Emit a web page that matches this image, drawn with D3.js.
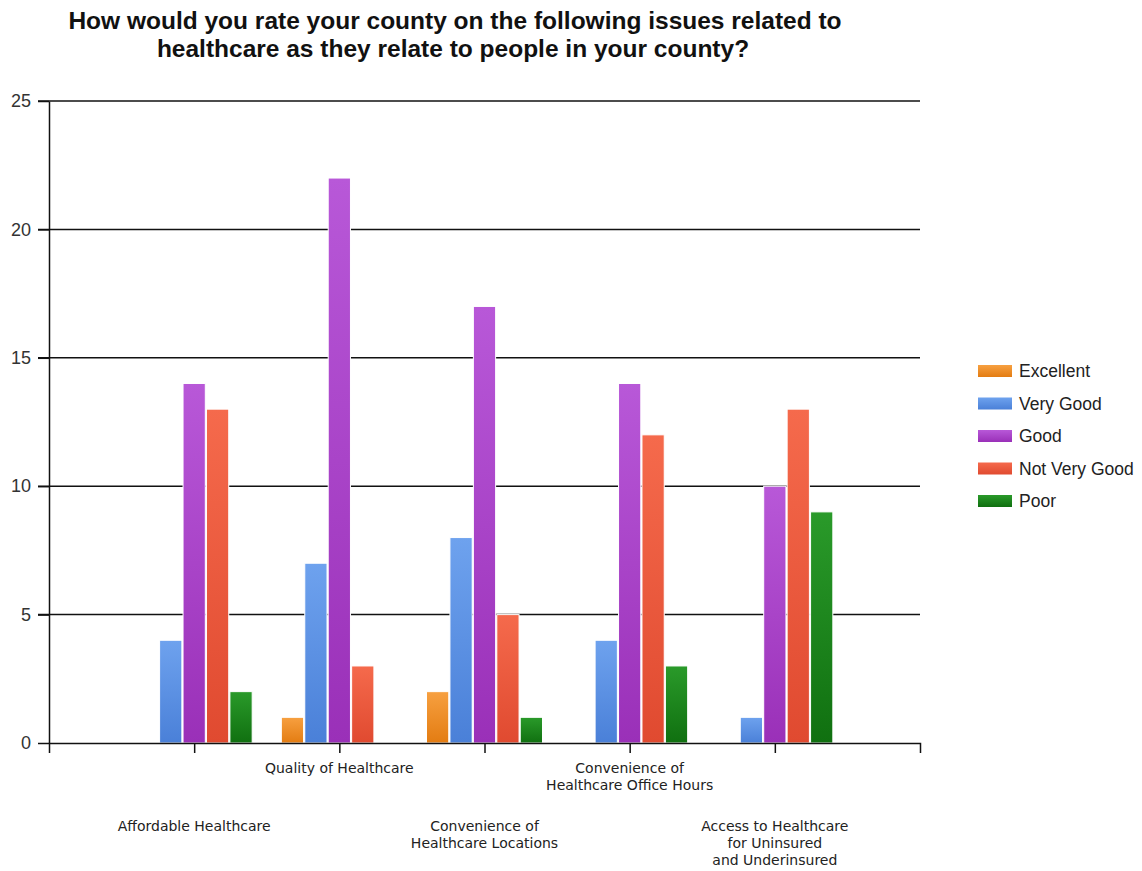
<!DOCTYPE html>
<html><head><meta charset="utf-8">
<script src="https://cdn.jsdelivr.net/npm/d3@7"></script>
<style>body{margin:0;background:#fff}svg{display:block}</style>
</head><body>
<script>
const categories = ["Affordable Healthcare","Quality of Healthcare","Convenience of\nHealthcare Locations","Convenience of\nHealthcare Office Hours","Access to Healthcare\nfor Uninsured\nand Underinsured"];
const seriesNames = ["Excellent","Very Good","Good","Not Very Good","Poor"];
const excellent = [0,1,2,0,0];
const veryGood = [4,7,8,4,1];
const good = [14,22,17,14,10];
const notVeryGood = [13,3,5,12,13];
const poor = [2,0,1,3,9];
const yTicks = [0,5,10,15,20,25];
const colorsTop = ["#f7a040","#6ea2ee","#b858d8","#f56a4c","#2a9a2a"];
const colorsBot = ["#e37c12","#4a80d8","#9a30b8","#e04a30","#107010"];
const seriesValues = [excellent, veryGood, good, notVeryGood, poor];

const W = 1142, H = 871;
const svg = d3.select("body").append("svg").attr("width", W).attr("height", H);
const defs = svg.append("defs");
seriesNames.forEach((s,i)=>{
  const g = defs.append("linearGradient").attr("id","g"+i).attr("x1",0).attr("y1",0).attr("x2",0).attr("y2",1);
  g.append("stop").attr("offset","0%").attr("stop-color",colorsTop[i]);
  g.append("stop").attr("offset","100%").attr("stop-color",colorsBot[i]);
});

const x0 = 49, x1 = 920, yTop = 101, yBot = 743;
const x = d3.scalePoint().domain(categories).range([x0, x1]).padding(1);
const y = d3.scaleLinear().domain([0,25]).range([yBot, yTop]);
const xs = d3.scaleBand().domain(seriesNames).range([-58, 58]).paddingInner(0.05);

// title
const title = svg.append("text").attr("text-anchor","middle")
  .attr("font-family","Liberation Sans, Arial, sans-serif").attr("font-weight","bold")
  .attr("font-size", 24.5).attr("fill","#111");
title.append("tspan").attr("x",455).attr("y",29).text("How would you rate your county on the following issues related to");
title.append("tspan").attr("x",453).attr("y",57).text("healthcare as they relate to people in your county?");

// gridlines
svg.append("g").selectAll("line").data(yTicks.filter(d=>d>0)).join("line")
  .attr("x1", 38).attr("x2", x1).attr("y1", d=>y(d)).attr("y2", d=>y(d))
  .attr("stroke","#111").attr("stroke-width",1.5);

// y axis
const ya = svg.append("g").attr("transform",`translate(${x0},0)`)
  .call(d3.axisLeft(y).tickValues(yTicks).tickSize(11).tickSizeOuter(0).tickPadding(7));
ya.select(".domain").attr("stroke","#111").attr("stroke-width",1.5);
ya.selectAll(".tick line").attr("stroke","#111").attr("stroke-width",1.5);
ya.selectAll(".tick text").attr("font-family","Liberation Sans, Arial, sans-serif").attr("font-size",18).attr("fill","#333");

// bars
const groups = svg.append("g").selectAll("g").data(categories).join("g")
  .attr("transform", d=>`translate(${x(d)},0)`);
groups.selectAll("rect").data((c,ci)=>seriesNames.map((s,si)=>({s,si,v:seriesValues[si][ci]})).filter(d=>d.v>0))
  .join("rect")
  .attr("x", d=>xs(d.s)).attr("width", xs.bandwidth())
  .attr("y", d=>y(d.v)).attr("height", d=>y(0)-y(d.v))
  .attr("fill", d=>`url(#g${d.si})`).attr("stroke","#fff").attr("stroke-width",1);

// x axis
const xa = svg.append("g").attr("transform",`translate(0,${yBot})`)
  .call(d3.axisBottom(x).tickSize(10).tickSizeOuter(10).tickFormat(""));
xa.select(".domain").attr("stroke","#111").attr("stroke-width",1.5);
xa.selectAll(".tick line").attr("stroke","#111").attr("stroke-width",1.5);

// category labels (staggered)
const lab = svg.append("g").selectAll("text").data(categories).join("text")
  .attr("text-anchor","middle").attr("font-family","DejaVu Sans, Verdana, sans-serif")
  .attr("font-size",14).attr("fill","#222");
lab.each(function(d,i){
  const base = i%2===0 ? 831 : 773;
  d.split("\n").forEach((ln,k)=>{
    d3.select(this).append("tspan").attr("x", x(d)).attr("y", base + k*17).text(ln);
  });
});

// legend
const lg = svg.append("g").selectAll("g").data(seriesNames).join("g")
  .attr("transform",(d,i)=>`translate(978,${371 + i*32.5})`);
lg.append("rect").attr("x",0).attr("y",-6).attr("width",34).attr("height",12)
  .attr("fill",(d,i)=>`url(#g${i})`);
lg.append("text").attr("x",41).attr("y",6).attr("font-family","Liberation Sans, Arial, sans-serif")
  .attr("font-size",17.5).attr("fill","#222").text(d=>d);
</script>
</body></html>
